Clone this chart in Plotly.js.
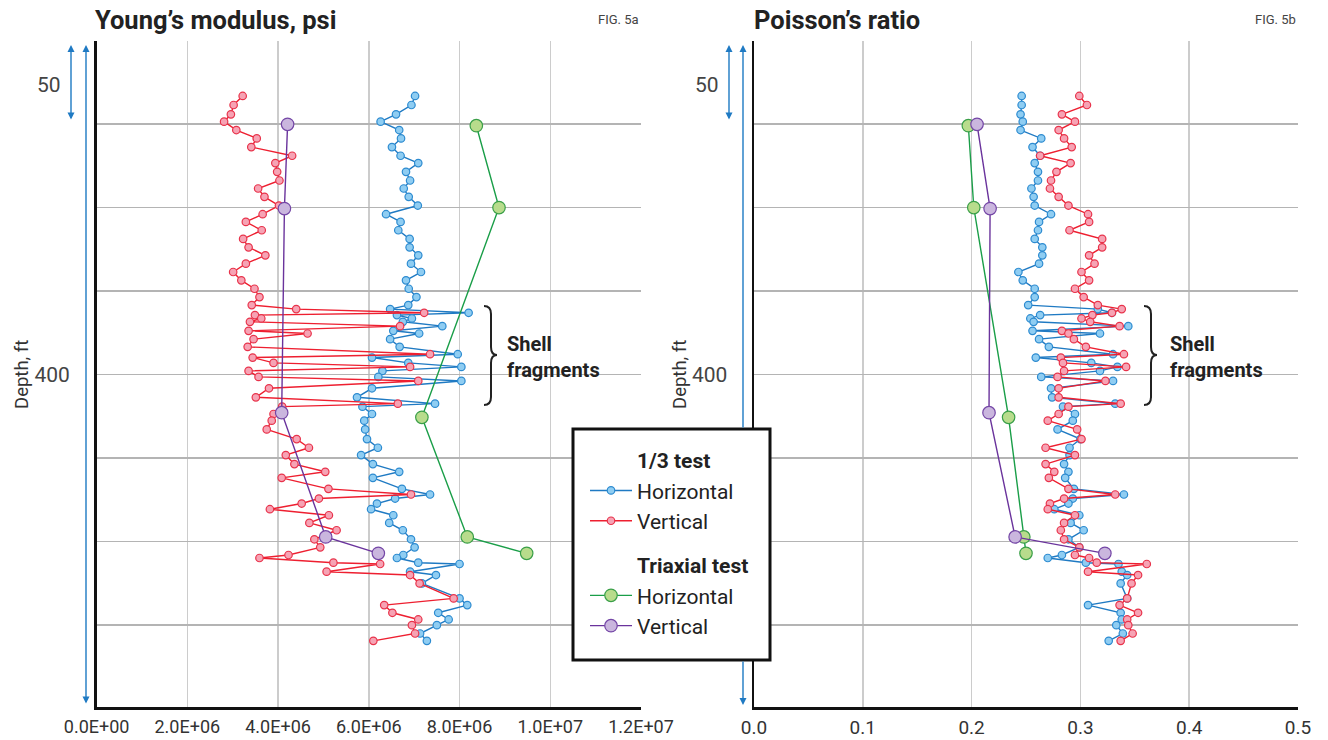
<!DOCTYPE html>
<html>
<head>
<meta charset="utf-8">
<script src="https://cdn.plot.ly/plotly-3.0.1.min.js"></script>
<style>html,body{margin:0;padding:0;background:#fff;}#chart{width:1328px;height:740px;}</style>
</head>
<body>
<div id="chart"></div>
<script>
// Depth (ft) of the 1/3-test samples (shared by both panels)
const depth13 = [
  316.6, 319.3, 322.1, 324.3, 326.8, 329.3, 331.9, 334.5, 336.7, 339.3, 341.9, 344.3, 346.8, 349.4, 352.0, 354.3, 356.8, 359.4, 361.9, 364.3, 366.8, 369.3, 371.8, 374.3, 376.8,
  379.2, 380.4, 381.5, 382.2, 383.2, 384.2, 385.5, 386.9, 387.7, 389.4, 391.7, 393.9, 394.9, 396.5, 397.7, 398.9, 400.7, 401.9, 404.1, 406.8, 408.7,
  409.6, 411.8, 413.8, 416.4, 419.3, 421.9, 424.1, 426.8, 429.1, 430.9, 434.2, 435.9, 437.1, 438.6, 440.3, 442.1, 444.4, 446.6, 449.3, 451.7, 454.0, 454.9, 456.3, 456.7, 459.0, 460.0, 462.5, 467.0, 469.0, 471.3, 473.3, 475.0, 477.5, 479.7
];
// Young's modulus, 10^6 psi
const youngH13 = [
  7.02, 6.94, 6.60, 6.26, 6.67, 6.71, 6.51, 6.70, 7.09, 6.82, 6.91, 6.77, 6.88, 7.08, 6.38, 6.70, 6.65, 6.90, 6.90, 7.09, 6.93, 7.15, 6.82, 6.88, 7.05,
  6.87, 6.47, 8.20, 6.62, 6.95, 6.75, 7.62, 6.54, 7.11, 6.47, 6.68, 7.96, 6.07, 6.87, 8.04, 6.30, 6.21, 8.04, 6.07, 5.74, 7.46,
  5.86, 6.07, 5.90, 5.92, 5.96, 6.20, 5.83, 6.09, 6.67, 6.09, 6.73, 7.35, 6.58, 6.18, 6.05, 6.54, 6.45, 6.75, 6.93, 7.01, 6.76, 6.62, 7.09, 8.00, 6.91, 7.48, 7.17, 8.00, 8.17, 7.53, 7.76, 7.50, 7.13, 7.28
];
const youngV13 = [
  3.22, 3.02, 2.96, 2.81, 3.08, 3.53, 3.41, 4.31, 3.94, 3.98, 4.03, 3.56, 3.70, 4.02, 3.66, 3.29, 3.64, 3.23, 3.35, 3.72, 3.29, 3.01, 3.19, 3.48, 3.59,
  3.42, 4.40, 7.22, 3.49, 3.63, 3.38, 6.69, 3.35, 4.65, 3.46, 3.33, 7.35, 3.44, 3.90, 6.91, 3.35, 3.57, 7.09, 3.80, 3.51, 6.64,
  4.09, 3.90, 3.86, 3.75, 4.41, 4.68, 4.17, 4.36, 5.04, 4.08, 5.11, 6.93, 4.90, 4.52, 3.82, 5.12, 4.69, 5.29, 4.80, 4.93, 4.23, 3.59, 5.22, 6.25, 5.07, 6.91, 7.12, 7.87, 6.34, 6.52, 7.09, 6.95, 7.02, 6.10
];
// Poisson's ratio
const poissonH13 = [
  0.246, 0.246, 0.245, 0.247, 0.245, 0.264, 0.256, 0.263, 0.258, 0.261, 0.261, 0.255, 0.257, 0.258, 0.273, 0.262, 0.261, 0.258, 0.265, 0.265, 0.262, 0.243, 0.247, 0.258, 0.258,
  0.252, 0.316, 0.329, 0.263, 0.254, 0.257, 0.344, 0.256, 0.318, 0.262, 0.271, 0.330, 0.259, 0.310, 0.334, 0.318, 0.264, 0.330, 0.273, 0.274, 0.332,
  0.284, 0.295, 0.293, 0.279, 0.300, 0.290, 0.290, 0.285, 0.289, 0.286, 0.294, 0.340, 0.293, 0.289, 0.276, 0.299, 0.291, 0.303, 0.289, 0.299, 0.283, 0.270, 0.305, 0.335, 0.338, 0.343, 0.337, 0.343, 0.307, 0.337, 0.338, 0.333, 0.339, 0.326
];
const poissonV13 = [
  0.299, 0.306, 0.283, 0.295, 0.280, 0.285, 0.292, 0.263, 0.291, 0.278, 0.273, 0.272, 0.280, 0.289, 0.307, 0.308, 0.290, 0.320, 0.320, 0.308, 0.313, 0.301, 0.308, 0.295, 0.303,
  0.316, 0.338, 0.329, 0.311, 0.301, 0.309, 0.336, 0.283, 0.289, 0.294, 0.305, 0.340, 0.282, 0.284, 0.342, 0.285, 0.279, 0.323, 0.280, 0.280, 0.337,
  0.289, 0.280, 0.270, 0.297, 0.301, 0.268, 0.295, 0.268, 0.276, 0.271, 0.289, 0.332, 0.285, 0.272, 0.270, 0.295, 0.285, 0.282, 0.285, 0.299, 0.295, 0.308, 0.315, 0.361, 0.307, 0.353, 0.347, 0.343, 0.336, 0.353, 0.343, 0.344, 0.348, 0.337
];
// Triaxial tests
const depthTriH = [325.5, 350.0, 412.8, 448.6, 453.5];
const depthTriV = [325.1, 350.3, 411.4, 448.6, 453.5];
const youngTriH = [8.37, 8.87, 7.17, 8.17, 9.48];
const youngTriV = [4.21, 4.14, 4.08, 5.05, 6.21];
const poissonTriH = [0.197, 0.202, 0.234, 0.248, 0.250];
const poissonTriV = [0.205, 0.217, 0.216, 0.240, 0.3225];

const youngTicks = [0, 2, 4, 6, 8, 10, 12];
const youngTickText = ['0.0E+00', '2.0E+06', '4.0E+06', '6.0E+06', '8.0E+06', '1.0E+07', '1.2E+07'];
const poissonTicks = [0, 0.1, 0.2, 0.3, 0.4, 0.5];
const poissonTickText = ['0.0', '0.1', '0.2', '0.3', '0.4', '0.5'];
const depthGrid = [300, 325, 350, 375, 400, 425, 450, 475];
const depthGridText = ['', '', '', '', '400', '', '', ''];

const FONT = 'Roboto, Arial, sans-serif';
const C = {
  bH: {line: '#1f7ac3', fill: '#8fcdf2', edge: '#2d8bd0'},
  rV: {line: '#ee1f30', fill: '#f6a3b4', edge: '#e8334b'},
  gH: {line: '#1a9e48', fill: '#b8dc8c', edge: '#3a9f48'},
  pV: {line: '#6a339c', fill: '#cab6de', edge: '#7446a6'}
};
const IND = '\u00a0\u00a0\u00a0\u00a0\u00a0\u00a0\u00a0\u00a0\u00a0';

function tr(x, y, col, size, name, group, gtitle, xa, ya, show) {
  return {
    type: 'scatter', mode: 'lines+markers', x: x, y: y, xaxis: xa, yaxis: ya,
    name: name, legendgroup: group, showlegend: show,
    legendgrouptitle: gtitle ? {text: gtitle, font: {family: FONT, size: 21, color: '#222'}} : undefined,
    line: {color: col.line, width: 1.4},
    marker: {size: size, color: col.fill, line: {color: col.edge, width: 1.2}},
    cliponaxis: false, hoverinfo: 'skip'
  };
}

const data = [
  tr(youngH13, depth13, C.bH, 7.5, 'Horizontal', 'g1', IND + '<b>1/3 test</b>', 'x', 'y', true),
  tr(youngV13, depth13, C.rV, 7.5, 'Vertical', 'g1', null, 'x', 'y', true),
  tr(youngTriH, depthTriH, C.gH, 12.5, 'Horizontal', 'g2', IND + '<b>Triaxial test</b>', 'x', 'y', true),
  tr(youngTriV, depthTriV, C.pV, 12.5, 'Vertical', 'g2', null, 'x', 'y', true),
  tr(poissonH13, depth13, C.bH, 7.5, 'Horizontal', 'g1', null, 'x2', 'y2', false),
  tr(poissonV13, depth13, C.rV, 7.5, 'Vertical', 'g1', null, 'x2', 'y2', false),
  tr(poissonTriH, depthTriH, C.gH, 12.5, 'Horizontal', 'g2', null, 'x2', 'y2', false),
  tr(poissonTriV, depthTriV, C.pV, 12.5, 'Vertical', 'g2', null, 'x2', 'y2', false)
];

const W = 1328, H = 740;
const px = v => v / W, py = v => 1 - v / H;

function yax(anchor) {
  return {
    domain: [py(707), py(40.5)], range: [499.5, 300], anchor: anchor,
    tickvals: depthGrid, ticktext: depthGridText, ticks: '',
    showgrid: true, gridcolor: '#b4b4b4', gridwidth: 1.5,
    showline: true, linecolor: '#111', linewidth: 2.5, zeroline: false,
    tickfont: {family: FONT, size: 21, color: '#444'}, ticklabelstandoff: 20
  };
}
function xax(dom, range, tv, tt, fs, anchor) {
  return {
    domain: dom, range: range, anchor: anchor, tickvals: tv, ticktext: tt, ticks: '',
    showgrid: true, gridcolor: '#cccccc', gridwidth: 1.5,
    showline: true, linecolor: '#111', linewidth: 2.5, zeroline: false,
    tickfont: {family: FONT, size: fs, color: '#333'}, ticklabelstandoff: 2
  };
}

// arrow with head(s); side = 'end' (head at y0) or 'end+start' (both)
function arrow(x, y0, y1, side) {
  return {xref: 'paper', yref: 'paper', x: px(x), y: py(y0), ax: 0, ay: (y1 - y0), axref: 'pixel', ayref: 'pixel',
    text: '', showarrow: true, arrowside: side, arrowhead: 2, arrowsize: 1, arrowwidth: 1.4, arrowcolor: '#1f7ac3'};
}
function txt(x, y, t, size, anchor, extra) {
  return Object.assign({xref: 'paper', yref: 'paper', x: px(x), y: py(y), text: t, showarrow: false,
    xanchor: anchor, yanchor: 'middle', font: {family: FONT, size: size, color: '#222'}}, extra || {});
}
function brace(x) {
  const P = (a, b) => px(a).toFixed(5) + ',' + py(b).toFixed(5);
  return {type: 'path', xref: 'paper', yref: 'paper', line: {color: '#222', width: 2},
    path: 'M' + P(x, 306) + ' Q' + P(x + 7, 306) + ' ' + P(x + 7, 314) + ' L' + P(x + 7, 347) +
      ' Q' + P(x + 7, 355) + ' ' + P(x + 13, 355) + ' Q' + P(x + 7, 355) + ' ' + P(x + 7, 363) +
      ' L' + P(x + 7, 397) + ' Q' + P(x + 7, 405) + ' ' + P(x, 405)};
}
const legendBox = {type: 'rect', xref: 'paper', yref: 'paper', layer: 'above',
  x0: px(573), x1: px(770), y0: py(660), y1: py(429),
  fillcolor: '#ffffff', line: {color: '#111', width: 3}};

const layout = {
  width: W, height: H, margin: {l: 0, r: 0, t: 0, b: 0},
  paper_bgcolor: '#fff', plot_bgcolor: '#fff',
  font: {family: FONT, color: '#222'},
  xaxis: xax([px(96.6), px(641)], [0, 12], youngTicks, youngTickText, 18, 'y'),
  yaxis: yax('x'),
  xaxis2: xax([px(754), px(1298)], [0, 0.5], poissonTicks, poissonTickText, 19, 'y2'),
  yaxis2: yax('x2'),
  showlegend: true,
  legend: {x: px(585), y: py(440), xanchor: 'left', yanchor: 'top', bgcolor: 'rgba(0,0,0,0)',
    borderwidth: 0, font: {family: FONT, size: 21, color: '#222'},
    traceorder: 'grouped', tracegroupgap: 14, itemwidth: 42},
  shapes: [brace(484), brace(1144), legendBox],
  annotations: [
    txt(93, 20, '<b>Young\u2019s modulus, psi</b>', 25.5, 'left'),
    txt(641, 20, 'FIG. 5a', 13, 'right', {font: {family: FONT, size: 13, color: '#444'}}),
    txt(752, 20, '<b>Poisson\u2019s ratio</b>', 25.5, 'left'),
    txt(1298, 20, 'FIG. 5b', 13, 'right', {font: {family: FONT, size: 13, color: '#444'}}),
    {xref: 'paper', yref: 'y', x: px(63), y: 313.3, text: '50', showarrow: false, xanchor: 'right', yanchor: 'middle', font: {family: FONT, size: 21, color: '#444'}},
    {xref: 'paper', yref: 'y2', x: px(721), y: 313.3, text: '50', showarrow: false, xanchor: 'right', yanchor: 'middle', font: {family: FONT, size: 21, color: '#444'}},
    txt(22, 375, 'Depth, ft', 18.5, 'center', {textangle: -90, font: {family: FONT, size: 18.5, color: '#333'}}),
    txt(680, 375, 'Depth, ft', 18.5, 'center', {textangle: -90, font: {family: FONT, size: 18.5, color: '#333'}}),
    txt(505, 357, '<b>Shell<br>fragments</b>', 20, 'left', {align: 'left'}),
    txt(1168, 357, '<b>Shell<br>fragments</b>', 20, 'left', {align: 'left'}),
    arrow(71, 45, 121, 'end+start'), arrow(86, 45, 705, 'end+start'),
    arrow(729, 45, 121, 'end+start'),
    arrow(743, 45, 429, 'end'), arrow(743, 705, 660, 'end')
  ]
};

Plotly.newPlot('chart', data, layout, {displayModeBar: false, staticPlot: true});
</script>
</body>
</html>
